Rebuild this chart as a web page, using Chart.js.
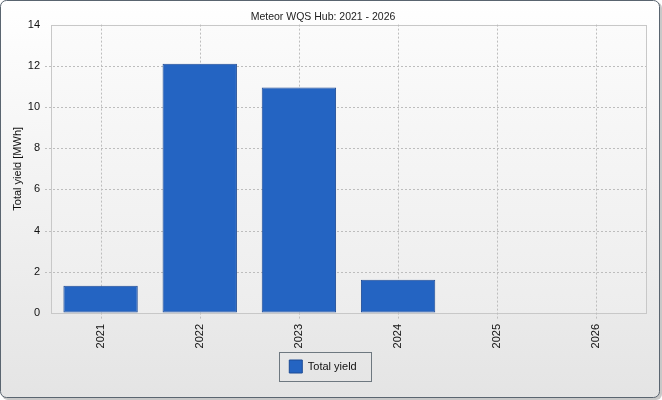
<!DOCTYPE html>
<html>
<head>
<meta charset="utf-8">
<script src="https://cdn.jsdelivr.net/npm/chart.js@4"></script>
<style>
  html, body { margin: 0; padding: 0; background: #ffffff; }
</style>
</head>
<body>
<canvas id="yieldChart" width="662" height="400"></canvas>
<script>
const years = ['2021', '2022', '2023', '2024', '2025', '2026'];
const totalYield = [1.32, 12.1, 10.95, 1.62, 0, 0];
const yTicks = [0, 2, 4, 6, 8, 10, 12, 14];

const fontFam = 'Liberation Sans';

// panel background, plot background, dotted grid and legend frame
const panelBg = {
    id: 'panelBg',
    beforeDraw(chart) {
        const c = chart.ctx;
        const w = chart.width, h = chart.height;
        c.save();
        c.fillStyle = '#c8c8c8';
        c.beginPath();
        c.roundRect(2, 2, w - 2, h - 2, 6);
        c.fill();
        const g = c.createLinearGradient(0, 0, 0, h);
        g.addColorStop(0, '#ffffff');
        g.addColorStop(1, '#e4e4e4');
        c.fillStyle = g;
        c.strokeStyle = '#5a6570';
        c.lineWidth = 1;
        c.beginPath();
        c.roundRect(0.5, 0.5, w - 3, h - 3, 6);
        c.fill();
        c.stroke();
        const a = chart.chartArea;
        const pg = c.createLinearGradient(0, a.top, 0, a.bottom);
        pg.addColorStop(0, '#fbfbfb');
        pg.addColorStop(1, '#ededed');
        c.fillStyle = pg;
        c.fillRect(a.left, a.top, a.right - a.left, a.bottom - a.top);
        c.strokeStyle = '#c8c8c8';
        c.strokeRect(Math.round(a.left) + 0.5, Math.round(a.top) + 0.5,
                     Math.round(a.right - a.left), Math.round(a.bottom - a.top));
        c.restore();
    },
    beforeDatasetsDraw(chart) {
        const c = chart.ctx;
        const a = chart.chartArea;
        const xs = chart.scales.x, ys = chart.scales.y;
        c.save();
        c.strokeStyle = '#bdbdbd';
        c.lineWidth = 1;
        c.setLineDash([2, 2]);
        c.beginPath();
        years.forEach((_, i) => {
            const x = Math.round(xs.getPixelForTick(i)) + 0.5;
            c.moveTo(x, a.top);
            c.lineTo(x, a.bottom + 6);
        });
        yTicks.forEach(v => {
            if (v === 0 || v === 14) return;
            const y = Math.round(ys.getPixelForValue(v)) + 0.5;
            c.moveTo(a.left - 6, y);
            c.lineTo(a.right, y);
        });
        c.stroke();
        c.restore();
    },
    afterDraw(chart) {
        const lg = chart.legend;
        const c = chart.ctx;
        c.save();
        c.strokeStyle = '#6e7880';
        c.lineWidth = 1;
        const hit = lg.legendHitBoxes[0];
        const x0 = Math.round(hit.left) - 9.5, y0 = Math.round(hit.top) - 7.5;
        c.strokeRect(x0, y0, Math.round(hit.width) + 25, 29);
        c.restore();
    }
};

new Chart(document.getElementById('yieldChart'), {
    type: 'bar',
    data: {
        labels: years,
        datasets: [{
            label: 'Total yield',
            data: totalYield,
            backgroundColor: '#2464c2',
            borderColor: '#1d4a94',
            borderWidth: 1,
            borderSkipped: false,
            categoryPercentage: 0.75,
            barPercentage: 1.0
        }]
    },
    options: {
        responsive: false,
        animation: false,
        layout: { padding: { left: 0, right: 16, top: 2, bottom: 17 } },
        plugins: {
            title: {
                display: true,
                text: 'Meteor WQS Hub: 2021 - 2026',
                color: '#222',
                font: { family: fontFam, size: 10.5, weight: 'normal' },
                padding: { top: 9, bottom: 1 }
            },
            legend: {
                position: 'bottom',
                labels: {
                    color: '#111',
                    font: { family: fontFam, size: 11 },
                    boxWidth: 13,
                    boxHeight: 13,
                    padding: 5
                }
            },
            tooltip: { enabled: false }
        },
        scales: {
            x: {
                afterFit(axis) { axis.height = 42; },
                grid: { drawOnChartArea: false, drawTicks: false, offset: false },
                border: { display: false },
                ticks: {
                    color: '#111',
                    font: { family: fontFam, size: 11 },
                    maxRotation: 90,
                    minRotation: 90,
                    padding: 11
                }
            },
            y: {
                min: 0,
                max: 14,
                afterBuildTicks(axis) { axis.ticks = yTicks.map(v => ({ value: v })); },
                afterFit(axis) { axis.width = 51; },
                grid: { drawOnChartArea: false, drawTicks: false },
                border: { display: false },
                ticks: {
                    color: '#111',
                    font: { family: fontFam, size: 11 },
                    autoSkip: false,
                    padding: 11
                },
                title: {
                    display: true,
                    text: 'Total yield [MWh]',
                    color: '#111',
                    font: { family: fontFam, size: 11 },
                    padding: { top: 11, bottom: 0 }
                }
            }
        }
    },
    plugins: [panelBg]
});
</script>
</body>
</html>
